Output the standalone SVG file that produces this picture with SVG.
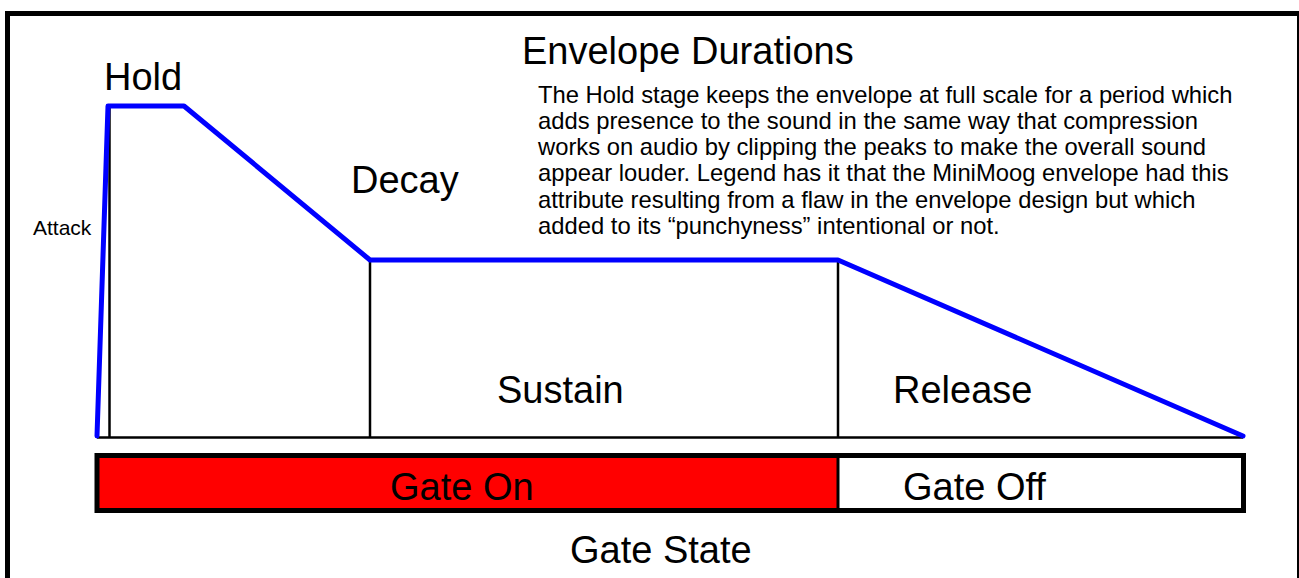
<svg xmlns="http://www.w3.org/2000/svg" width="1299" height="578" viewBox="0 0 1299 578">
<style>
text{font-family:"Liberation Sans",Arial,sans-serif;fill:#000}
.big{font-size:38px}
.para{font-size:23.8px}
.env{fill:none;stroke:#0000ff;stroke-width:5;stroke-linejoin:round;stroke-linecap:round}
.thin{stroke:#000;stroke-width:2.5;fill:none}
</style>
<rect x="0" y="0" width="1299" height="578" fill="#fff"/>
<g id="frame"><rect x="7.5" y="13.5" width="1292" height="620" fill="none" stroke="#000" stroke-width="5"/></g>
<g id="title"><text class="big" x="522" y="64">Envelope Durations</text></g>
<g id="description">
<text class="para" x="538" y="103">The Hold stage keeps the envelope at full scale for a period which</text>
<text class="para" x="538" y="129">adds presence to the sound in the same way that compression</text>
<text class="para" x="538" y="155">works on audio by clipping the peaks to make the overall sound</text>
<text class="para" x="538" y="181">appear louder. Legend has it that the MiniMoog envelope had this</text>
<text class="para" x="538" y="208">attribute resulting from a flaw in the envelope design but which</text>
<text class="para" x="538" y="234">added to its “punchyness” intentional or not.</text>
</g>
<g id="connectors">
<line class="thin" x1="109.5" y1="106" x2="109.5" y2="438"/>
<line class="thin" x1="370" y1="260" x2="370" y2="438"/>
<line class="thin" x1="838" y1="260" x2="838" y2="438"/>
<line class="thin" x1="97" y1="437.5" x2="1243" y2="437.5"/>
</g>
<g id="envelope"><polyline class="env" points="97,436 108,106 184,106 370,260 838,260 1243,436"/></g>
<g id="attack"><text x="33" y="235" font-size="21">Attack</text></g>
<g id="hold"><text class="big" x="104" y="90">Hold</text></g>
<g id="decay"><text class="big" x="351" y="193">Decay</text></g>
<g id="sustain"><text class="big" x="497" y="403">Sustain</text></g>
<g id="release"><text class="big" x="893" y="403">Release</text></g>
<g id="gate-on"><rect x="97" y="455.5" width="741" height="55" fill="#ff0000"/><text class="big" x="390" y="500">Gate On</text></g>
<g id="gate-off"><text class="big" x="903" y="500">Gate Off</text></g>
<g id="gate-frame"><rect x="97" y="455.5" width="1146.5" height="55" fill="none" stroke="#000" stroke-width="5"/><line x1="838" y1="455" x2="838" y2="511" stroke="#000" stroke-width="3"/></g>
<g id="gate-state"><text class="big" x="570" y="563">Gate State</text></g>
</svg>
